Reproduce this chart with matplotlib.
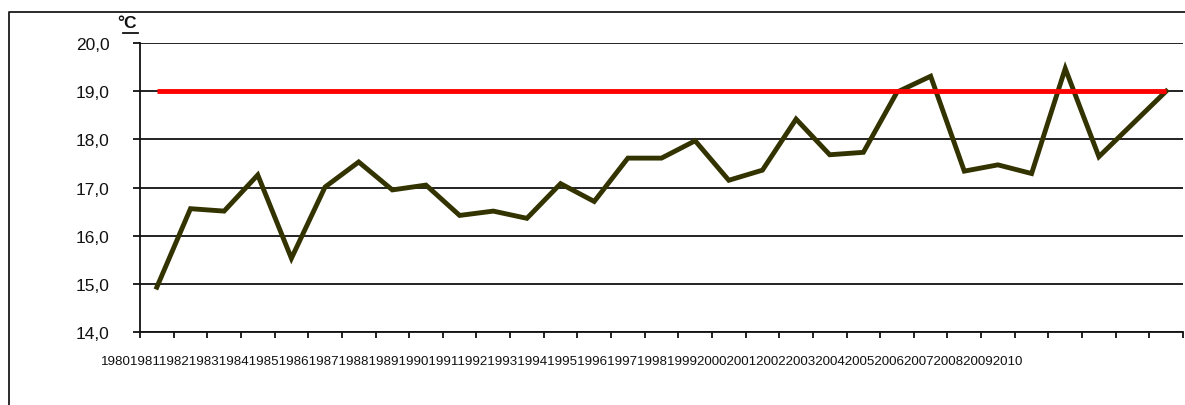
import matplotlib
matplotlib.use("Agg")
import matplotlib.pyplot as plt
from matplotlib.lines import Line2D

# ---- data ----
years = list(range(1980, 2011))
temps = [14.93, 16.56, 16.51, 17.26, 15.53, 17.01, 17.53, 16.95, 17.05, 16.42,
         16.51, 16.36, 17.08, 16.71, 17.61, 17.61, 17.97, 17.15, 17.36, 18.42,
         17.68, 17.73, 18.98, 19.31, 17.34, 17.47, 17.29, 19.47, 17.64, 18.32,
         19.0]
threshold = 19.0
ytick_values = [14, 15, 16, 17, 18, 19, 20]
ytick_labels = ["14,0", "15,0", "16,0", "17,0", "18,0", "19,0", "20,0"]
unit_label = "°C"

W, H = 1185, 406
fig = plt.figure(figsize=(W / 100, H / 100), dpi=100)
plt.rcParams['font.family'] = ['Liberation Sans', 'DejaVu Sans']

ax = fig.add_axes([140 / W, (H - 333) / H, (1183 - 140) / W, (333 - 44) / H])

n = len(years)
x = list(range(n))

# grid lines
for v in ytick_values:
    ax.axhline(v, color='#111111', lw=1.3, zorder=1)

ax.plot(x, temps, color='#333300', lw=3.5, solid_joinstyle='miter', zorder=3)
ax.plot([x[0], x[-1]], [threshold, threshold], color='#ff0000', lw=3.5,
        solid_capstyle='butt', zorder=4)

ax.set_xlim(-0.5, n - 0.5)
ax.set_ylim(14, 20)
ax.set_yticks(ytick_values)
ax.set_yticklabels(ytick_labels, fontsize=12.5, color='#111111')
ax.set_xticks([i - 0.5 for i in range(n + 1)])
ax.set_xticklabels([])
ax.tick_params(axis='y', direction='out', length=5, width=1.3, pad=17, colors='#111111')
ax.tick_params(axis='x', direction='out', length=4.5, width=1.3, colors='#111111')
for s in ['top', 'right']:
    ax.spines[s].set_visible(False)
for s in ['left', 'bottom']:
    ax.spines[s].set_color('#111111')
    ax.spines[s].set_linewidth(1.3)

# year labels, packed together as in the reference
fig.text(101 / W, (H - 362) / H, "".join(str(y) for y in years),
         fontsize=9.6, ha='left', va='center', color='#111111')

# unit label with underline
fig.text(127 / W, (H - 24) / H, unit_label, fontsize=12.5, fontweight='bold',
         ha='center', va='center', color='#111111')
fig.add_artist(Line2D([123 / W, 137.5 / W], [(H - 33.5) / H, (H - 33.5) / H],
                      transform=fig.transFigure, color='#111111', lw=1.3))

# outer frame (left and top visible)
fig.add_artist(Line2D([9 / W, 9 / W, 1.0], [0.0, (H - 13) / H, (H - 13) / H],
                      transform=fig.transFigure, color='#1a1a1a', lw=1.3))

fig.savefig("out.png", dpi=100)
